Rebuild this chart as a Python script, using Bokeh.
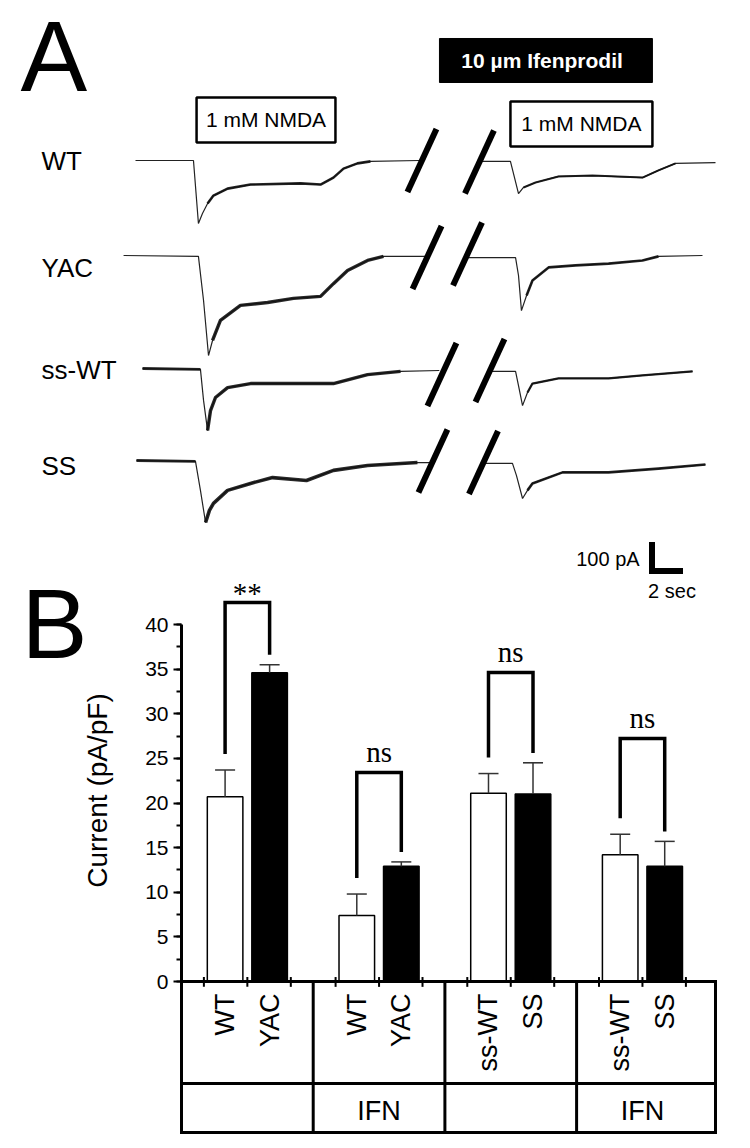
import numpy as np
from bokeh.plotting import figure
from bokeh.layouts import column
from bokeh.models import Range1d, LinearAxis, SingleIntervalTicker
from bokeh.core.properties import value
from bokeh.embed import file_html
from bokeh.resources import INLINE

SANS = "Liberation Sans"
SERIF = "Liberation Serif"

# ================= Panel A data: time (s) and current (pA) =================
row_names = ["WT", "YAC", "ss-WT", "SS"]

wt_pre_t = [0.0, 3.74, 4.06, 4.32, 4.65, 5.03, 5.94, 7.42, 10.65, 11.94, 12.77, 13.42, 14.32, 15.16, 18.3]
wt_pre_i = [0, 0, -217, -183, -148, -121, -97, -83, -79, -83, -59, -28, -10, -3, 0]
wt_post_t = [22.3, 24.19, 24.71, 25.03, 25.81, 27.29, 29.48, 32.71, 33.74, 34.84, 37.42]
wt_post_i = [-3, -3, -114, -93, -76, -55, -52, -59, -34, -10, -7]

yac_pre_t = [-0.77, 4.06, 4.39, 4.71, 4.97, 5.48, 6.77, 8.52, 10.19, 11.94, 12.77, 13.68, 14.97, 16.0, 18.7]
yac_pre_i = [0, -3, -155, -345, -293, -224, -172, -162, -148, -141, -97, -52, -17, -3, -3]
yac_post_t = [21.45, 24.52, 24.71, 24.90, 25.23, 25.61, 26.65, 28.39, 30.52, 32.71, 33.74, 36.58]
yac_post_i = [-7, -7, -69, -190, -138, -86, -41, -34, -28, -17, -3, 0]

sswt_pre_t = [0.45, 4.19, 4.39, 4.65, 4.84, 5.16, 5.94, 7.42, 10.65, 12.77, 14.97, 17.10, 19.6]
sswt_pre_i = [0, -3, -110, -214, -145, -100, -66, -52, -52, -52, -21, -10, -7]
sswt_post_t = [23.0, 24.52, 24.71, 24.97, 25.29, 25.61, 27.29, 30.52, 32.71, 35.94]
sswt_post_i = [-10, -10, -59, -128, -83, -52, -34, -34, -24, -10]

ss_pre_t = [0.06, 3.87, 4.19, 4.52, 4.77, 5.03, 5.94, 7.42, 8.84, 11.03, 12.77, 14.97, 18.19, 19.0]
ss_pre_i = [0, -3, -103, -214, -172, -148, -103, -79, -59, -69, -34, -17, -7, -7]
ss_post_t = [22.6, 24.32, 24.58, 24.97, 25.29, 25.61, 27.55, 30.52, 33.74, 36.77]
ss_post_i = [-10, -10, -52, -131, -103, -79, -41, -41, -28, -14]

# time of the recording break (slashes) per row, s
break_t1 = [18.48, 18.81, 19.77, 19.19]
break_t2 = [22.19, 21.42, 22.87, 22.45]

# ================= Panel B data =================
genotypes = ["WT", "YAC", "WT", "YAC", "ss-WT", "SS", "ss-WT", "SS"]
treatment = ["", "IFN", "", "IFN"]
current_mean = [20.7, 34.6, 7.4, 12.9, 21.1, 21.0, 14.2, 12.9]
current_sem = [3.0, 0.9, 2.4, 0.5, 2.2, 3.5, 2.3, 2.8]
significance = ["**", "ns", "ns", "ns"]

# ================= layout / geometry =================
PAGE_W = 750
PX_S = 15.5     # pixels per second
PX_PA = 0.29    # pixels per pA
T0_X = 135      # page x of t = 0
I0_Y = 160      # page y of 0 pA (first row)
A_H = 540
row_offset = [0, -327.6, -717.2, -1034.5]
row_label_y = [-3.4, -372.0, -724.0, -1052.0]
row_label_x = (41 - T0_X) / PX_S

figA = figure(width=PAGE_W, height=A_H, toolbar_location=None, output_backend="svg",
              x_range=Range1d((0 - T0_X) / PX_S, (PAGE_W - T0_X) / PX_S),
              y_range=Range1d((I0_Y - A_H) / PX_PA, (I0_Y - 0) / PX_PA),
              min_border=0, x_axis_location=None, y_axis_location=None,
              outline_line_color=None, background_fill_color="white",
              border_fill_color="white")
figA.grid.visible = False

traces = [
    (wt_pre_t, wt_pre_i, wt_post_t, wt_post_i),
    (yac_pre_t, yac_pre_i, yac_post_t, yac_post_i),
    (sswt_pre_t, sswt_pre_i, sswt_post_t, sswt_post_i),
    (ss_pre_t, ss_pre_i, ss_post_t, ss_post_i),
]
# noisy stretches drawn heavier: (row, part, t0, t1, width)
noise = [
    (0, 0, 4.5, 15.2, 2.6), (0, 1, 25.0, 35.0, 2.0),
    (1, 0, 4.9, 16.0, 3.4), (1, 1, 25.2, 34.0, 2.6),
    (2, 0, 0.4, 4.2, 2.8), (2, 0, 4.6, 17.2, 3.4), (2, 1, 25.2, 36.0, 2.3),
    (3, 0, 0.0, 3.9, 2.8), (3, 0, 4.5, 18.3, 3.6), (3, 1, 25.2, 36.8, 2.6),
]
for r, (t1, i1, t2, i2) in enumerate(traces):
    for t, i in ((t1, i1), (t2, i2)):
        figA.line(t, np.array(i) + row_offset[r], line_color="#222222", line_width=1.2)
for r, part, a, b, w in noise:
    t = np.asarray(traces[r][2 * part]); i = np.asarray(traces[r][2 * part + 1])
    m = (t >= a) & (t <= b)
    figA.line(t[m], i[m] + row_offset[r], line_color="#111111", line_width=w,
              line_join="round", line_alpha=0.9)

# slashes marking the break
slash_y1 = [0, -334.5, -737.9, -1036.2]
slash_y2 = [-5.2, -322.4, -724.1, -1041.4]
dt, di = 14.5 / PX_S, 31.5 / PX_PA
sx = np.array(break_t1 + break_t2); sy = np.array(slash_y1 + slash_y2)
figA.segment(x0=sx - dt, y0=sy - di, x1=sx + dt, y1=sy + di,
             line_color="black", line_width=6, line_cap="butt")

# application boxes
figA.quad(left=[3.94, 24.19], right=[12.90, 33.35], bottom=[62.1, 48.3], top=[217.2, 203.4],
          fill_color="white", line_color="black", line_width=2.5)
figA.text(x=[8.42, 28.77], y=[139.7, 125.9], text=["1 mM NMDA", "1 mM NMDA"],
          text_font=value(SANS), text_font_size="21px", text_align="center",
          text_baseline="middle", text_color="black")
figA.quad(left=[19.61], right=[33.35], bottom=[269.0], top=[420.7],
          fill_color="black", line_color="black", line_width=1)
figA.text(x=[26.23], y=[344.8], text=["10 \u00b5m Ifenprodil"], text_font=value(SANS),
          text_font_size="21px", text_font_style="bold", text_color="white",
          text_align="center", text_baseline="middle")

figA.text(x=[row_label_x] * 4, y=row_label_y, text=row_names, text_font=value(SANS),
          text_font_size="26px", text_align="left", text_baseline="middle", text_color="black")
figA.text(x=[(20 - T0_X) / PX_S], y=[(I0_Y - 55) / PX_PA], text=["A"], text_font=value(SANS),
          text_font_size="100px", text_align="left", text_baseline="middle", text_color="black")

# ================= Panel B =================
ZERO_Y = 981
PX_UNIT = 8.925
LEFT_X = 181
GROUP_PX = 131.7
B_TOP = 540
B_H = 1148 - B_TOP

figB = figure(width=PAGE_W, height=B_H, toolbar_location=None, output_backend="svg",
              x_range=Range1d((0 - LEFT_X) / GROUP_PX, (PAGE_W - LEFT_X) / GROUP_PX),
              y_range=Range1d(-(1148 - ZERO_Y) / PX_UNIT, (ZERO_Y - B_TOP) / PX_UNIT),
              min_border=0, x_axis_location=None, y_axis_location=None,
              outline_line_color=None, background_fill_color="white",
              border_fill_color="white")
figB.grid.visible = False
ax = LinearAxis(fixed_location=0, bounds=(0, 40),
                ticker=SingleIntervalTicker(interval=5, num_minor_ticks=2))
ax.axis_line_width = 3
ax.axis_line_color = "black"
ax.major_tick_line_width = 2
ax.minor_tick_line_width = 2
ax.major_tick_line_color = "black"
ax.minor_tick_line_color = "black"
ax.major_tick_out = 8
ax.major_tick_in = 0
ax.minor_tick_out = 5
ax.minor_tick_in = 0
ax.major_label_text_font = SANS
ax.major_label_text_font_size = "21px"
ax.major_label_text_color = "black"
ax.major_label_standoff = 5
figB.add_layout(ax, "left")

group_c = np.arange(4) + 0.5
bar_off, bar_w = 0.169, 0.27
bar_x = np.ravel([[c - bar_off, c + bar_off] for c in group_c])
mean = np.array(current_mean); sem = np.array(current_sem)
fills = ["white", "black"] * 4

figB.vbar(x=bar_x, top=mean, bottom=0, width=bar_w, fill_color=fills,
          line_color="black", line_width=1.5)
err_top = mean + sem
cap = 0.076
figB.segment(x0=bar_x, y0=mean, x1=bar_x, y1=err_top, line_color="#333333", line_width=1.5)
figB.segment(x0=bar_x - cap, y0=err_top, x1=bar_x + cap, y1=err_top,
             line_color="#333333", line_width=1.5)

# significance brackets
bracket_top = [42.47, 23.42, 34.62, 27.23]
xs, ys = [], []
for g in range(4):
    l, r = bar_x[2 * g], bar_x[2 * g + 1]
    xs.append([l, l, r, r])
    ys.append([err_top[2 * g] + 1.8, bracket_top[g], bracket_top[g], err_top[2 * g + 1] + 1.1])
figB.multi_line(xs, ys, line_color="black", line_width=3.5, line_join="miter")
sig_y = [bracket_top[g] + (1.1 if significance[g] == "**" else 2.3) for g in range(4)]
figB.text(x=group_c, y=sig_y, text=significance, text_font=value(SERIF), text_font_size="29px",
          text_align="center", text_baseline="middle", text_color="black")

# category table below the axis
row1_y, row2_y = -(1083 - ZERO_Y) / PX_UNIT, -(1132 - ZERO_Y) / PX_UNIT
right_x = (715 - LEFT_X) / GROUP_PX
hx0 = [0] * 3; hx1 = [right_x] * 3; hy = [0, row1_y, row2_y]
figB.segment(x0=hx0, y0=hy, x1=hx1, y1=hy, line_color="black", line_width=3, line_cap="square")
vx = [0, 1, 2, 3, right_x]
figB.segment(x0=vx, y0=[0] * 5, x1=vx, y1=[row2_y] * 5, line_color="black", line_width=3,
             line_cap="square")
tick_x = np.ravel([[c - 0.33, c, c + 0.33] for c in group_c])
figB.segment(x0=tick_x, y0=[0.5] * 12, x1=tick_x, y1=[-0.6] * 12, line_color="black", line_width=2)

figB.text(x=bar_x, y=[-(993 - ZERO_Y) / PX_UNIT] * 8, text=genotypes, angle=np.pi / 2,
          text_font=value(SANS), text_font_size="27px", text_align="right",
          text_baseline="middle", text_color="black")
figB.text(x=group_c, y=[-(1110 - ZERO_Y) / PX_UNIT] * 4, text=treatment,
          text_font=value(SANS), text_font_size="27px", text_align="center",
          text_baseline="middle", text_color="black")

figB.text(x=[(21 - LEFT_X) / GROUP_PX], y=[(ZERO_Y - 623) / PX_UNIT], text=["B"],
          text_font=value(SANS), text_font_size="99px", text_align="left",
          text_baseline="middle", text_color="black")
figB.text(x=[(96.5 - LEFT_X) / GROUP_PX], y=[(ZERO_Y - 790) / PX_UNIT], text=["Current (pA/pF)"],
          angle=np.pi / 2, text_font=value(SANS), text_font_size="28px", text_align="center",
          text_baseline="middle", text_color="black")

# scale bar for panel A (same time / current scales as the traces)
figB.extra_x_ranges = {"time": Range1d((0 - T0_X) / PX_S, (PAGE_W - T0_X) / PX_S)}
figB.extra_y_ranges = {"pA": Range1d((I0_Y - 1148) / PX_PA, (I0_Y - B_TOP) / PX_PA)}
sb_t, sb_i = (651.5 - T0_X) / PX_S, (I0_Y - 570.5) / PX_PA
scale_s, scale_pA = 2, 100
ht, hi = 3 / PX_S, 3 / PX_PA
figB.segment(x0=[sb_t, sb_t - ht], y0=[sb_i - hi, sb_i], x1=[sb_t, sb_t + scale_s],
             y1=[sb_i + scale_pA, sb_i], x_range_name="time", y_range_name="pA",
             line_color="black", line_width=6, line_cap="butt")
figB.text(x=[sb_t - 0.8, sb_t + 1.29], y=[sb_i + 40, sb_i - 30],
          text=["%d pA" % scale_pA, "%d sec" % scale_s], x_range_name="time", y_range_name="pA",
          text_font=value(SANS), text_font_size="20px", text_align=["right", "center"],
          text_baseline=["middle", "top"], text_color="black")

layout = column(figA, figB)
open("out.html", "w").write(file_html(layout, INLINE))
